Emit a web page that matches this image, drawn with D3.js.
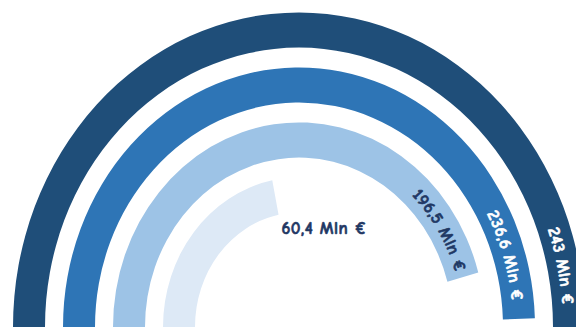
<!DOCTYPE html>
<html><head><meta charset="utf-8">
<script src="https://cdn.jsdelivr.net/npm/d3@7"></script>
<style>html,body{margin:0;padding:0;background:#fff;overflow:hidden;} svg{display:block;}</style>
</head><body>
<svg id="chart" width="576" height="327"></svg>
<script>
// Data (inner ring to outer ring)
const categories = ["A", "B", "C", "D"];
const values = [60.4, 196.5, 236.6, 243];
const labels = ["60,4 Mln €", "196,5 Mln €", "236,6 Mln €", "243 Mln €"];
const palette = ["#dde9f6", "#9dc3e6", "#2e75b6", "#1f4e79"];
const labelPalette = ["#1f3864", "#1f3864", "#ffffff", "#ffffff"];
const labelPad = [0, 6, 18, 22];

const W = 576, H = 327;
const cx = 299, cy = 327, k = 1.10;
const font = "'Comic Sans MS','Comic Neue','Open Sans',sans-serif";
const fs = 17;

const data = categories.map((c, i) => ({cat: c, value: values[i], label: labels[i], i}));

const svg = d3.select("#chart");

const r = d3.scaleBand().domain(categories).range([104, 286]).paddingInner(0.36);
const ang = d3.scaleLog().domain([20.5, d3.max(values)]).range([-Math.PI / 2, Math.PI / 2]);

const arc = d3.arc()
  .innerRadius(d => r(d.cat))
  .outerRadius(d => r(d.cat) + r.bandwidth())
  .startAngle(-Math.PI / 2)
  .endAngle(d => ang(d.value));

const g = svg.append("g").attr("transform", `translate(${cx},${cy}) scale(1,${k})`);
g.selectAll("path").data(data).join("path")
  .attr("d", arc)
  .attr("fill", d => palette[d.i]);

function pt(rad, a) { return [cx + rad * Math.sin(a), cy - k * rad * Math.cos(a)]; }
function ellPath(rad, a0, a1) {
  const p0 = pt(rad, a0), p1 = pt(rad, a1);
  const large = (a1 - a0) > Math.PI ? 1 : 0;
  return `M${p0[0]},${p0[1]} A${rad},${rad * k} 0 ${large} 1 ${p1[0]},${p1[1]}`;
}

const defs = svg.append("defs");
data.forEach(d => {
  const rm = r(d.cat) + r.bandwidth() / 2;
  const a1 = ang(d.value);
  const col = labelPalette[d.i];
  if (a1 > 0) {
    const id = "lp" + d.i;
    const p = defs.append("path").attr("id", id).attr("d", ellPath(rm, -Math.PI / 2, a1));
    const L = p.node().getTotalLength();
    svg.append("text")
      .attr("font-family", font).attr("font-weight", "bold").attr("font-size", fs)
      .attr("letter-spacing", 0.5)
      .attr("fill", col).attr("stroke", col).attr("stroke-width", 0.6)
      .attr("dy", "0.35em")
      .append("textPath")
      .attr("href", "#" + id)
      .attr("startOffset", L - labelPad[d.i])
      .attr("text-anchor", "end")
      .text(d.label);
  } else {
    const e = pt(rm, a1);
    svg.append("text")
      .attr("x", e[0] + 6).attr("y", e[1] + 36)
      .attr("font-family", font).attr("font-weight", "bold").attr("font-size", fs)
      .attr("letter-spacing", 0.5)
      .attr("fill", col).attr("stroke", col).attr("stroke-width", 0.6)
      .text(d.label);
  }
});
</script>
</body></html>
